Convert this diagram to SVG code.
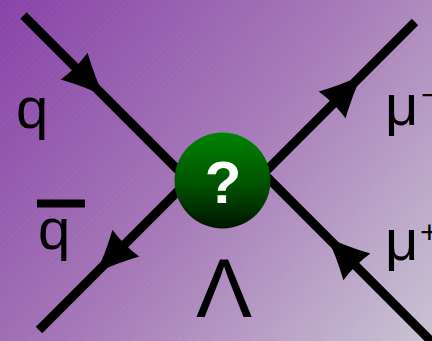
<svg xmlns="http://www.w3.org/2000/svg" width="432" height="341" viewBox="0 0 432 341">
  <defs>
    <linearGradient id="bg" gradientUnits="userSpaceOnUse" x1="0" y1="0" x2="432" y2="341">
      <stop offset="0" stop-color="#8843a8"/>
      <stop offset="0.5" stop-color="#a67ab8"/>
      <stop offset="1" stop-color="#c9c3d3"/>
    </linearGradient>
    <linearGradient id="ball" x1="0" y1="0" x2="0" y2="1">
      <stop offset="0" stop-color="#008400"/>
      <stop offset="0.55" stop-color="#005200"/>
      <stop offset="1" stop-color="#001400"/>
    </linearGradient>
    <pattern id="hatch" width="5" height="5" patternUnits="userSpaceOnUse" patternTransform="rotate(45)">
      <line x1="0" y1="0" x2="0" y2="5" stroke="#ffffff" stroke-width="1"/>
    </pattern>
    <!-- fermion-flow arrowhead, tip at origin, pointing along +x -->
    <path id="arr" d="M4,0 Q-16,-7 -38,-19 Q-35,0 -38,19 Q-16,7 4,0 Z"/>
    <style>
      .lbl { font-family: "Liberation Sans", "DejaVu Sans", sans-serif; fill: #000; }
      .ln { stroke: #000; stroke-width: 9; fill: none; stroke-linecap: butt; }
    </style>
  </defs>

  <!-- background -->
  <rect width="432" height="341" fill="url(#bg)"/>
  <rect width="432" height="341" fill="url(#hatch)" opacity="0.06"/>

  <!-- fermion lines with flow arrows -->
  <g id="connectors">
    <line class="ln" x1="23.5" y1="15.5" x2="190" y2="182"/>
    <line class="ln" x1="39" y1="330" x2="190" y2="179"/>
    <line class="ln" x1="415" y1="22" x2="262" y2="175"/>
    <line class="ln" x1="440" y1="350" x2="262" y2="172"/>
    <use href="#arr" transform="translate(101,93) rotate(45)"/>
    <use href="#arr" transform="translate(99,270) rotate(135)"/>
    <use href="#arr" transform="translate(359,78) rotate(-45)"/>
    <use href="#arr" transform="translate(330,240) rotate(-135)"/>
  </g>

  <!-- contact-interaction vertex -->
  <g id="vertex">
    <circle cx="222.5" cy="180.5" r="48" fill="url(#ball)"/>
    <text x="223" y="203" text-anchor="middle" font-family="'Liberation Sans', Arial, sans-serif" font-weight="bold" font-size="60" fill="#ffffff">?</text>
  </g>

  <!-- particle labels -->
  <g id="label-q">
    <text class="lbl" x="16" y="128" font-size="58">q</text>
  </g>
  <g id="label-qbar">
    <rect x="37" y="199.5" width="48" height="8" fill="#000"/>
    <text class="lbl" x="38" y="249" font-size="58">q</text>
  </g>
  <g id="label-muminus">
    <text class="lbl" x="385" y="125" font-size="58">μ</text>
    <text class="lbl" x="421" y="106" font-size="32">−</text>
  </g>
  <g id="label-muplus">
    <text class="lbl" x="385" y="260" font-size="58">μ</text>
    <text class="lbl" x="420" y="243" font-size="32">+</text>
  </g>
  <g id="label-lambda">
    <text class="lbl" x="224" y="317" text-anchor="middle" font-size="84">Λ</text>
  </g>
</svg>
